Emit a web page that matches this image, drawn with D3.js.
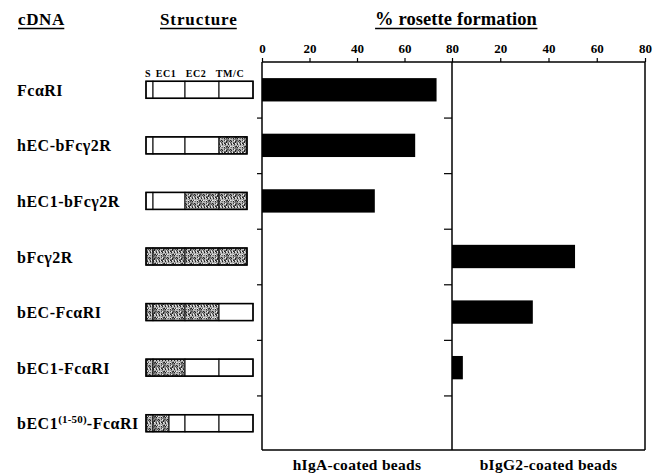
<!DOCTYPE html>
<html>
<head>
<meta charset="utf-8">
<script src="https://cdn.jsdelivr.net/npm/d3@7"></script>
<style>
body { margin: 0; background: #fff; }
text { font-family: "Liberation Serif", "Times New Roman", serif; font-weight: bold; fill: #000; }
</style>
</head>
<body>
<div id="chart"></div>
<script>
// constructs, top to bottom
var constructs = ["FcαRI", "hEC-bFcγ2R", "hEC1-bFcγ2R", "bFcγ2R", "bEC-FcαRI", "bEC1-FcαRI", "bEC1(1-50)-FcαRI"];
// % rosette formation
var hIgA = [73.5, 64.5, 47.5, 0, 0, 0, 0];
var bIgG2 = [0, 0, 0, 51, 33.5, 4.5, 0];
var xTicks = [0, 20, 40, 60, 80];
// structure segments: [from, to, bovine?] in domain units (S 0-7, EC1 7-39, EC2 39-73, TM/C 73-107 / 73-101 bovine)
var structures = [
    [[0, 7, 0], [7, 39, 0], [39, 73, 0], [73, 107, 0]],
    [[0, 7, 0], [7, 39, 0], [39, 73, 0], [73, 101, 1]],
    [[0, 7, 0], [7, 39, 0], [39, 73, 1], [73, 101, 1]],
    [[0, 7, 1], [7, 39, 1], [39, 73, 1], [73, 101, 1]],
    [[0, 7, 1], [7, 39, 1], [39, 73, 1], [73, 107, 0]],
    [[0, 7, 1], [7, 39, 1], [39, 73, 0], [73, 107, 0]],
    [[0, 7, 1], [7, 23, 1], [23, 39, 0], [39, 73, 0], [73, 107, 0]]
];
var partLabels = ["S", "EC1", "EC2", "TM/C"];
var partCenters = [2, 20, 50, 84];

var W = 660, H = 474;
var svg = d3.select("#chart").append("svg")
    .attr("width", W).attr("height", H);

// stipple texture for bovine parts
var defs = svg.append("defs");
var pat = defs.append("pattern")
    .attr("id", "stip")
    .attr("patternUnits", "userSpaceOnUse")
    .attr("width", 9).attr("height", 9);
pat.append("rect").attr("width", 9).attr("height", 9).attr("fill", "#969696");
var shades = ["#222", "#4a4a4a", "#6a6a6a", "#d0d0d0", "#eee", "#808080", "#bbb"];
for (var i = 0; i < 9; i++) {
    for (var j = 0; j < 9; j++) {
        var k = (i * 5 + j * 7 + i * j * 3 + (i ^ j)) % 9;
        if (k < shades.length) {
            pat.append("rect").attr("x", i).attr("y", j).attr("width", 1).attr("height", 1)
                .attr("fill", shades[k]);
        }
    }
}

var plotTop = 62, plotBottom = 451;
var y = d3.scaleBand().domain(constructs).range([plotTop, plotBottom])
    .paddingInner(0.58).paddingOuter(0.29);
var yTick = d3.scaleLinear().domain([0, 7]).range([plotTop, plotBottom]);

var x1 = d3.scaleLinear().domain([0, 80]).range([262, 452]);
var x2 = d3.scaleLinear().domain([0, 80]).range([452, 645]);

// headers
function underlined(txt, x, yy, size, spacing, anchor) {
    var t = svg.append("text")
        .attr("x", x).attr("y", yy)
        .attr("font-size", size)
        .attr("letter-spacing", spacing)
        .attr("text-anchor", anchor || "start")
        .text(txt);
    var bb = t.node().getBBox();
    svg.append("line")
        .attr("x1", bb.x).attr("x2", bb.x + bb.width - spacing)
        .attr("y1", yy + 3.5).attr("y2", yy + 3.5)
        .attr("stroke", "#000").attr("stroke-width", 1.6);
}
underlined("cDNA", 18, 25, 17, 0.6);
underlined("Structure", 160, 25, 17, 0.9);
underlined("% rosette formation", 456, 25, 18.5, 0.1, "middle");

// row labels
svg.append("g").selectAll("text")
    .data(constructs)
    .enter().append("text")
    .attr("x", 17)
    .attr("y", function (d) { return y(d) + y.bandwidth() / 2 + 6; })
    .attr("font-size", 16)
    .attr("letter-spacing", 0.5)
    .each(function (d) {
        var t = d3.select(this);
        var m = d.match(/^(bEC1)\((1-50)\)(.*)$/);
        if (m) {
            t.append("tspan").text(m[1]);
            t.append("tspan").attr("dy", -6).attr("font-size", 11).attr("letter-spacing", 0.2).text("(" + m[2] + ")");
            t.append("tspan").attr("dy", 6).text(m[3]);
        } else {
            t.text(d);
        }
    });

// structure diagrams
var sx = d3.scaleLinear().domain([0, 107]).range([146, 253]);
var boxH = 17;
structures.forEach(function (segs, r) {
    var cy = y(constructs[r]) + y.bandwidth() / 2;
    var g = svg.append("g");
    g.selectAll("rect")
        .data(segs)
        .enter().append("rect")
        .attr("x", function (d) { return sx(d[0]); })
        .attr("y", cy - boxH / 2)
        .attr("width", function (d) { return sx(d[1]) - sx(d[0]); })
        .attr("height", boxH)
        .attr("fill", function (d) { return d[2] ? "url(#stip)" : "#fff"; })
        .attr("stroke", "#222")
        .attr("stroke-width", 1.2);
    // outline
    var end = segs[segs.length - 1][1];
    g.append("rect")
        .attr("x", sx(0)).attr("y", cy - boxH / 2)
        .attr("width", sx(end) - sx(0)).attr("height", boxH)
        .attr("fill", "none").attr("stroke", "#000").attr("stroke-width", 1.5);
});
// part labels above the first diagram
svg.append("g").selectAll("text")
    .data(partLabels)
    .enter().append("text")
    .attr("x", function (d, i) { return sx(partCenters[i]); })
    .attr("y", y(constructs[0]) + y.bandwidth() / 2 - boxH / 2 - 4)
    .attr("text-anchor", "middle")
    .attr("font-size", 10)
    .attr("letter-spacing", 0.6)
    .text(function (d) { return d; });

// panels frame
var frame = svg.append("g").attr("stroke", "#000").attr("stroke-width", 1.5).attr("fill", "none");
frame.append("line").attr("x1", x1(0)).attr("x2", x2(80)).attr("y1", plotTop).attr("y2", plotTop);
frame.append("line").attr("x1", x1(0)).attr("x2", x2(80)).attr("y1", plotBottom - 1).attr("y2", plotBottom - 1);
frame.append("line").attr("x1", x2(80)).attr("x2", x2(80)).attr("y1", plotTop).attr("y2", plotBottom - 1);

// top axes
var ax1 = svg.append("g").attr("transform", "translate(0," + plotTop + ")")
    .call(d3.axisTop(x1).tickValues(xTicks).tickSize(4).tickPadding(5));
var ax2 = svg.append("g").attr("transform", "translate(0," + plotTop + ")")
    .call(d3.axisTop(x2).tickValues(xTicks.slice(1)).tickSize(4).tickPadding(5));
[ax1, ax2].forEach(function (a) {
    a.select(".domain").remove();
    a.selectAll("text").attr("font-size", 13).attr("font-family", null);
    a.selectAll("line").attr("stroke-width", 1.2);
});

// left axis and divider with category ticks
var la = svg.append("g").attr("transform", "translate(" + x1(0) + ",0)")
    .call(d3.axisLeft(yTick).tickValues([1, 2, 3, 4, 5, 6]).tickSize(5).tickFormat(""));
var da = svg.append("g").attr("transform", "translate(" + x1(80) + ",0)")
    .call(d3.axisLeft(yTick).tickValues([1, 2, 3, 4, 5, 6]).tickSize(8).tickFormat(""));
[la, da].forEach(function (a) {
    a.select(".domain").attr("d", "M0," + plotTop + "V" + (plotBottom - 1)).attr("stroke-width", 1.5);
    a.selectAll("line").attr("stroke-width", 1.2);
});

// bars
function drawBars(vals, xs) {
    var rows = vals.map(function (v, i) { return { name: constructs[i], v: v }; })
        .filter(function (d) { return d.v > 0; });
    svg.append("g").selectAll("rect")
        .data(rows)
        .enter().append("rect")
        .attr("x", xs(0))
        .attr("y", function (d) { return y(d.name); })
        .attr("width", function (d) { return xs(d.v) - xs(0); })
        .attr("height", y.bandwidth())
        .attr("fill", "#000");
}
drawBars(hIgA, x1);
drawBars(bIgG2, x2);

// bottom captions
svg.append("text").attr("x", (x1(0) + x1(80)) / 2).attr("y", 470)
    .attr("text-anchor", "middle").attr("font-size", 15.5).attr("letter-spacing", 0.3).text("hIgA-coated beads");
svg.append("text").attr("x", (x2(0) + x2(80)) / 2).attr("y", 470)
    .attr("text-anchor", "middle").attr("font-size", 15.5).attr("letter-spacing", 0.3).text("bIgG2-coated beads");
</script>
</body>
</html>
